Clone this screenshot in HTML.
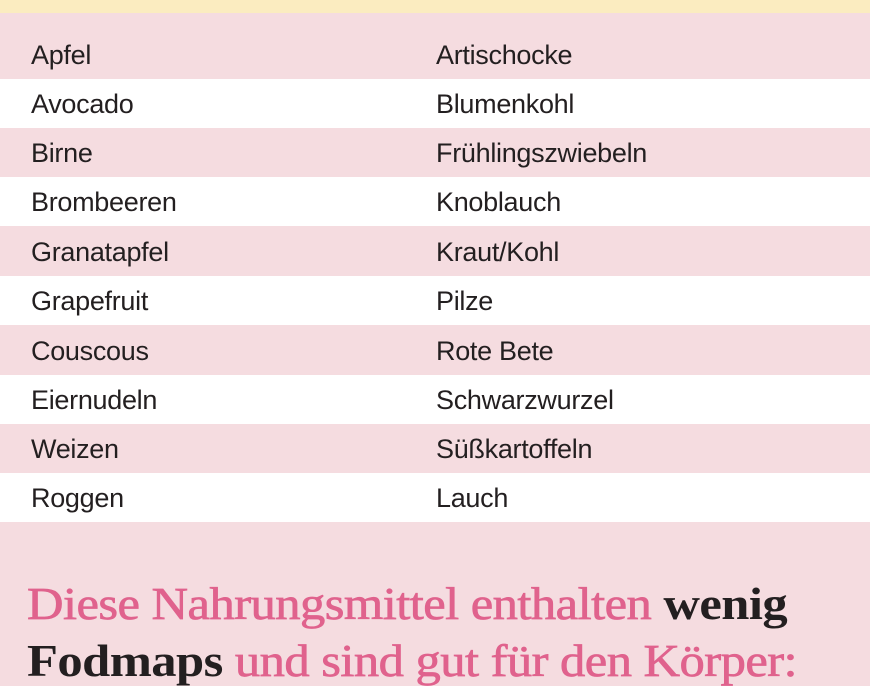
<!DOCTYPE html>
<html><head><meta charset="utf-8"><style>
body{margin:0;width:870px;height:653px;overflow:hidden;background:#f5dce0;font-family:"Liberation Sans",sans-serif;position:relative}
.top{position:absolute;left:0;top:0;width:870px;height:13px;background:#fbecc0}
.row{position:absolute;left:0;width:870px;height:49px;font-size:27px;color:#231f20;letter-spacing:-0.3px}
.row span{position:absolute;top:10px}
.w{background:#fff}
.p{background:#f5dce0}
.h{position:absolute;left:27px;font-family:"Liberation Serif",serif;font-size:46px;color:#e0628d;white-space:nowrap;transform-origin:0 0;letter-spacing:-0.5px;line-height:50px;-webkit-text-stroke:0.7px #e0628d}
.h b{color:#231f20;-webkit-text-stroke:0}
</style></head><body>
<div class="top"></div>
<div class="row p" style="top:30px"><span style="left:31px">Apfel</span><span style="left:436px">Artischocke</span></div>
<div class="row w" style="top:79px"><span style="left:31px">Avocado</span><span style="left:436px">Blumenkohl</span></div>
<div class="row p" style="top:128px"><span style="left:31px">Birne</span><span style="left:436px">Frühlingszwiebeln</span></div>
<div class="row w" style="top:177px"><span style="left:31px">Brombeeren</span><span style="left:436px">Knoblauch</span></div>
<div class="row p" style="top:227px"><span style="left:31px">Granatapfel</span><span style="left:436px">Kraut/Kohl</span></div>
<div class="row w" style="top:276px"><span style="left:31px">Grapefruit</span><span style="left:436px">Pilze</span></div>
<div class="row p" style="top:326px"><span style="left:31px">Couscous</span><span style="left:436px">Rote Bete</span></div>
<div class="row w" style="top:375px"><span style="left:31px">Eiernudeln</span><span style="left:436px">Schwarzwurzel</span></div>
<div class="row p" style="top:424px"><span style="left:31px">Weizen</span><span style="left:436px">Süßkartoffeln</span></div>
<div class="row w" style="top:473px"><span style="left:31px">Roggen</span><span style="left:436px">Lauch</span></div>
<div class="h" style="top:579px;transform:scaleX(1.1)">Diese Nahrungsmittel enthalten <b>wenig</b></div>
<div class="h" style="top:636px;transform:scaleX(1.1)"><b>Fodmaps</b> und sind gut für den Körper:</div>
</body></html>
